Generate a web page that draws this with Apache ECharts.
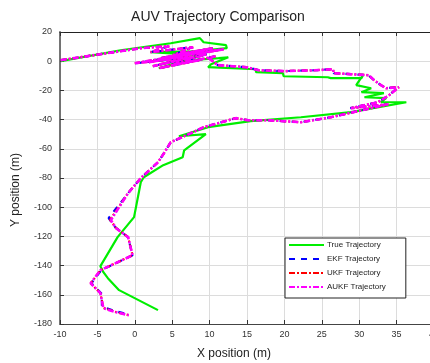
<!DOCTYPE html>
<html>
<head>
<meta charset="utf-8">
<script src="https://cdn.jsdelivr.net/npm/echarts@6/dist/echarts.min.js"></script>
<style>
  html, body { margin: 0; padding: 0; background: #fff; }
  #chart { width: 430px; height: 363px; }
</style>
</head>
<body>
<div id="chart"></div>
<script>
// Axis ticks
const xTicks = { min: -10, max: 40, step: 5 };
const yTicks = { min: -180, max: 20, step: 20 };

// True trajectory [x, y] in metres
const trueX = [-9.9, -1.9, 4.8, 8.7, 9.2, 12.2, 12.3, 8.2, 2.1, 8.8, 3.2, 7.5, 11.2, 12.5, 10.2, 9.8,
  16.2, 16.2, 19.8, 19.9, 25.8, 26.2, 30.3, 30.5, 29.6, 31.6, 30.3, 33.3, 30.7, 33.6, 32.9, 36.3,
  28.9, 22.2, 15.5, 9.8, 5.9, 9.5, 6.6, 6.4, 3.8, 1.2, 0.8, -0.1, -2.3, -4.6, -4.2, -3.6, -2.1, 3.1];
const trueY = [0, 7.5, 12.3, 15.8, 13.0, 11.0, 8.9, 6.8, 6.2, 4.1, -4.8, 0.7, 2.1, 2.7, -2.1, -4.1,
  -5.5, -7.5, -8.2, -10.3, -11.0, -11.6, -11.6, -9.6, -16.4, -18.5, -21.2, -21.9, -24.7, -25.3, -28.1, -28.1,
  -34.9, -38.4, -41.1, -45.2, -51.4, -50.0, -61.0, -65.8, -71.2, -79.5, -82.9, -106.8, -120.5, -140.4, -144.5, -148.6, -156.8, -170.5];

// AUKF estimate
const aukfX = [-9.9, -4.6, 0.8, 4.6, 2.1, 7.8, 5.1, 10.4, 3.5, 11.9, 1.9, 8.8, 0.0, 7.2, 2.4, 9.6, 4.8, 8.6, 3.2, 10.8, 9.9, 11.1,
  14.9, 16.6, 20.0, 24.0, 26.5, 26.6, 28.9, 31.3, 32.0, 32.9, 33.6, 35.3, 34.0, 32.5, 28.9, 33.9, 26.2, 22.2, 17.8, 15.1,
  13.5, 11.1, 9.2, 7.5, 4.8, 3.9, 3.1, 0.8, -0.9, -3.2, -2.5, -0.9, -0.3, -4.6, -5.9, -4.6, -4.2, -2.5, -0.8];
const aukfY = [0.7, 4.8, 8.9, 10.3, 6.2, 9.6, 4.1, 8.9, 2.1, 8.2, -0.7, 6.2, -1.4, 2.7, -3.4, 4.8, -2.7, 0.7, -4.8, 3.4, 2.1, -2.7,
  -4.1, -6.2, -6.8, -6.2, -5.5, -8.2, -8.9, -9.6, -13.0, -16.4, -18.5, -17.8, -23.3, -28.1, -32.2, -29.5, -38.4, -41.8, -40.4, -40.4,
  -39.0, -42.5, -45.2, -49.3, -55.5, -63.0, -69.2, -80.1, -90.4, -108.9, -114.4, -120.5, -132.9, -143.2, -152.1, -158.9, -169.2, -171.9, -174.0];

// EKF estimate
const ekfX = [-9.9, -4.6, 0.8, 4.5, 2.2, 7.7, 5.1, 10.4, 3.4, 11.8, 1.9, 8.8, 0.1, 7.2, 2.5, 9.6, 4.9, 8.6, 3.3, 10.8, 9.9, 11.1,
  14.9, 16.6, 20.0, 24.0, 26.4, 26.6, 28.9, 31.2, 32.0, 32.9, 33.6, 35.2, 34.0, 32.5, 28.8, 33.8, 26.2, 22.2, 17.8, 15.1,
  13.5, 11.1, 9.2, 7.5, 4.8, 3.9, 3.1, 0.8, -0.9, -3.5, -2.6, -0.9, -0.3, -4.5, -5.8, -4.4, -4.4, -2.6, -0.8];
const ekfY = [0.7, 4.8, 8.9, 10.2, 6.2, 9.6, 4.2, 8.9, 2.1, 8.2, -0.6, 6.2, -1.4, 2.7, -3.4, 4.8, -2.6, 0.7, -4.7, 3.4, 2.1, -2.7,
  -4.1, -6.2, -6.8, -6.2, -5.5, -8.2, -8.9, -9.6, -13.0, -16.4, -18.4, -17.8, -23.3, -28.1, -32.1, -29.5, -38.4, -41.8, -40.4, -40.4,
  -39.0, -42.5, -45.2, -49.3, -55.5, -63.0, -69.2, -80.1, -90.4, -107.5, -113.8, -120.5, -132.9, -143.2, -152.1, -159.5, -168.0, -171.2, -173.6];

// UKF estimate
const ukfX = [-9.9, -4.6, 0.8, 4.6, 2.1, 7.8, 5.1, 10.4, 3.5, 11.9, 1.9, 8.8, 0.0, 7.2, 2.4, 9.6, 4.8, 8.6, 3.2, 10.8, 9.9, 11.1,
  14.9, 16.6, 20.0, 24.0, 26.5, 26.6, 28.9, 31.3, 32.0, 32.9, 33.6, 35.3, 34.0, 32.5, 28.9, 33.9, 26.2, 22.2, 17.8, 15.1,
  13.5, 11.1, 9.2, 7.5, 4.8, 3.9, 3.1, 0.8, -0.9, -3.3, -2.5, -0.9, -0.3, -4.6, -5.9, -4.6, -4.2, -2.5, -0.8];
const ukfY = [0.7, 4.8, 8.9, 10.3, 6.2, 9.6, 4.1, 8.9, 2.1, 8.2, -0.7, 6.2, -1.4, 2.7, -3.4, 4.8, -2.7, 0.7, -4.8, 3.4, 2.1, -2.7,
  -4.1, -6.2, -6.8, -6.2, -5.5, -8.2, -8.9, -9.6, -13.0, -16.4, -18.5, -17.8, -23.3, -28.1, -32.2, -29.5, -38.4, -41.8, -40.4, -40.4,
  -39.0, -42.5, -45.2, -49.3, -55.5, -63.0, -69.2, -80.1, -90.4, -108.6, -114.3, -120.5, -132.9, -143.2, -152.1, -158.9, -169.0, -171.8, -174.0];

const seriesNames = ['True Trajectory', 'EKF Trajectory', 'UKF Trajectory', 'AUKF Trajectory'];

const zip = (xs, ys) => xs.map((x, i) => [x, ys[i]]);
const FONT = 'Liberation Sans, Arial, sans-serif';

const chart = echarts.init(document.getElementById('chart'), null, { renderer: 'canvas' });

function lineSeries(name, data, color, width, type) {
  return {
    name, type: 'line', data,
    showSymbol: false, symbol: 'none',
    lineStyle: { color, width, type },
    itemStyle: { color },
    emphasis: { disabled: true },
    animation: false
  };
}

chart.setOption({
  animation: false,
  textStyle: { fontFamily: FONT },
  // plot box runs a little past the right edge of the canvas
  grid: { left: 60, top: 32, width: 374, height: 292, containLabel: false, outerBoundsMode: 'none' },
  xAxis: [{
    type: 'value', min: xTicks.min, max: xTicks.max, interval: xTicks.step,
    axisLine: { show: true, onZero: false, lineStyle: { color: '#444', width: 1.2 } },
    axisTick: { show: true, inside: true, length: 4, lineStyle: { color: '#333' } },
    axisLabel: { color: '#333', fontSize: 9, margin: 6, fontFamily: FONT },
    splitLine: { show: true, lineStyle: { color: '#dcdcdc', width: 1 } }
  }, {
    type: 'value', position: 'top', min: xTicks.min, max: xTicks.max, interval: xTicks.step,
    axisLine: { show: true, onZero: false, lineStyle: { color: '#222', width: 1.2 } },
    axisTick: { show: true, inside: true, length: 4, lineStyle: { color: '#333' } },
    axisLabel: { show: false },
    splitLine: { show: false }
  }],
  yAxis: {
    type: 'value', min: yTicks.min, max: yTicks.max, interval: yTicks.step,
    axisLine: { show: true, onZero: false, lineStyle: { color: '#666', width: 1.8 } },
    axisTick: { show: true, inside: true, length: 4, lineStyle: { color: '#333' } },
    axisLabel: { color: '#333', fontSize: 9, margin: 8, fontFamily: FONT },
    splitLine: { show: true, lineStyle: { color: '#dcdcdc', width: 1 } }
  },
  legend: {
    data: seriesNames,
    orient: 'vertical',
    left: 285, top: 238,
    padding: [3, 20, 7, 3],
    itemWidth: 35, itemHeight: 10, itemGap: 6,
    itemStyle: { opacity: 0 },
    borderColor: '#222', borderWidth: 1, backgroundColor: '#fff',
    textStyle: { fontSize: 8, color: '#222', fontFamily: FONT, padding: [0, 0, 0, -2] },
    selectedMode: false
  },
  graphic: [
    { type: 'text', x: 218, y: 17, style: { text: 'AUV Trajectory Comparison', fontSize: 14, fill: '#222', fontFamily: FONT, align: 'center', verticalAlign: 'middle' } },
    { type: 'text', x: 234, y: 354, style: { text: 'X position (m)', fontSize: 12, fill: '#222', fontFamily: FONT, align: 'center', verticalAlign: 'middle' } },
    { type: 'text', x: 16, y: 190, rotation: Math.PI / 2, style: { text: 'Y position (m)', fontSize: 12, fill: '#222', fontFamily: FONT, align: 'center', verticalAlign: 'middle' } }
  ],
  series: [
    lineSeries(seriesNames[0], zip(trueX, trueY), '#00ee00', 2.2, 'solid'),
    lineSeries(seriesNames[1], zip(ekfX, ekfY), '#0000ff', 2.2, [6, 6]),
    lineSeries(seriesNames[2], zip(ukfX, ukfY), '#ff0000', 2.2, [6, 2, 2, 2]),
    lineSeries(seriesNames[3], zip(aukfX, aukfY), '#ff00ff', 2.6, [6, 2, 2, 2])
  ]
});
</script>
</body>
</html>
